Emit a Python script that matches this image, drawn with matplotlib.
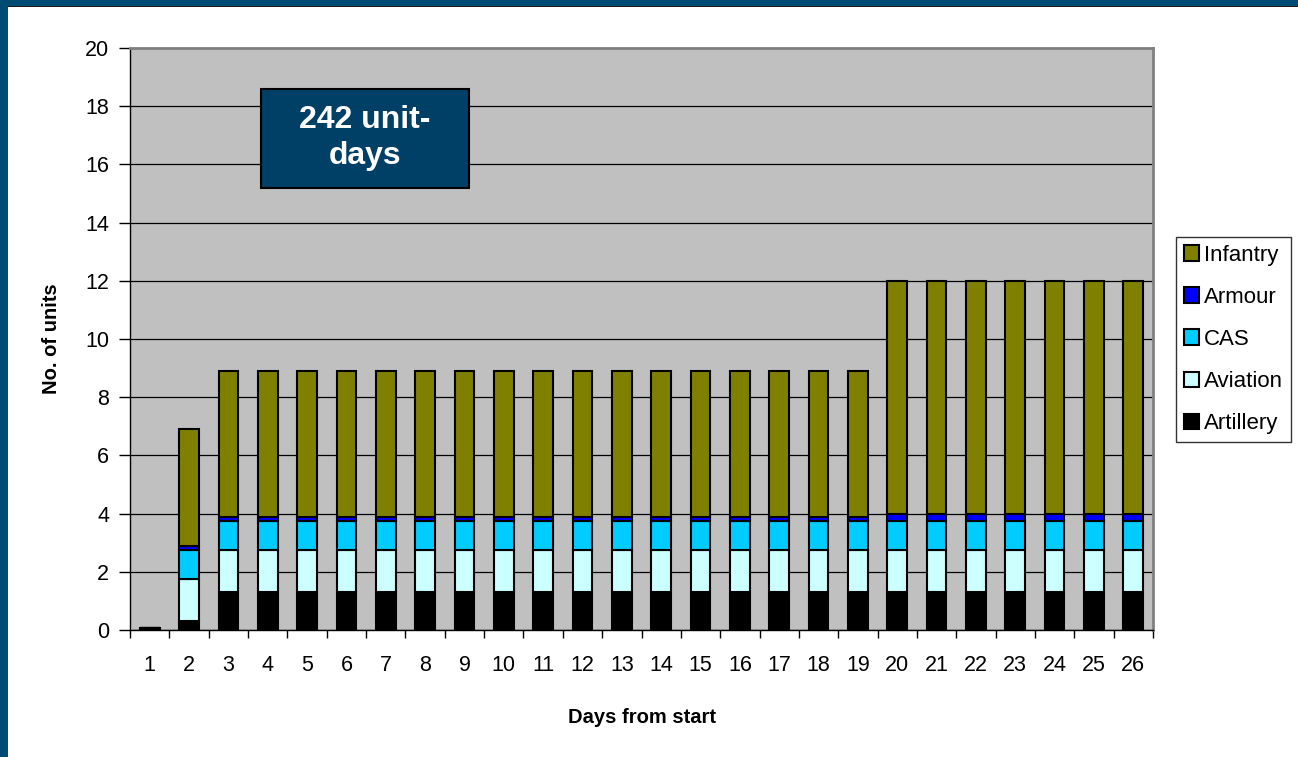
import numpy as np
import matplotlib
matplotlib.use("Agg")
import matplotlib.pyplot as plt
from matplotlib.patches import Rectangle

plt.rcParams['font.family'] = ['Liberation Sans', 'DejaVu Sans']

days = list(range(1, 27))
artillery = [0.08, 0.3] + [1.3] * 24
aviation = [0.0, 1.45] + [1.45] * 24
cas = [0.0, 1.0] + [1.0] * 24
armour = [0.0, 0.15] + [0.15] * 17 + [0.25] * 7
infantry = [0.0, 4.0] + [5.0] * 17 + [8.0] * 7

series = [
    ('Artillery', artillery, '#000000'),
    ('Aviation', aviation, '#CCFFFF'),
    ('CAS', cas, '#00CCFF'),
    ('Armour', armour, '#0000FF'),
    ('Infantry', infantry, '#808000'),
]

fig = plt.figure(figsize=(12.98, 7.57), dpi=100)
fig.patch.set_facecolor('white')

# dark blue frame strips (left and top)
fig.patches.append(Rectangle((0, 0), 8 / 1298, 1, transform=fig.transFigure,
                             facecolor='#004B74', edgecolor='none', zorder=0))
fig.patches.append(Rectangle((0, 1 - 6 / 757), 1, 6 / 757, transform=fig.transFigure,
                             facecolor='#004B74', edgecolor='none', zorder=0))
fig.patches.append(Rectangle((8 / 1298, 1 - 7 / 757), 1, 1 / 757, transform=fig.transFigure,
                             facecolor='#1A1A1A', edgecolor='none', zorder=0))

ax = fig.add_axes([130 / 1298, 127 / 757, 1023 / 1298, 582 / 757])
ax.set_facecolor('#C0C0C0')

bottom = np.zeros(len(days))
handles = {}
for name, vals, color in series:
    vals = np.array(vals)
    b = ax.bar(days, vals, width=0.5, bottom=bottom, color=color,
               edgecolor='black', linewidth=1.5, label=name, zorder=3)
    handles[name] = b
    bottom += vals

ax.set_xlim(0.5, 26.5)
ax.set_ylim(0, 20)
ax.set_yticks(range(0, 21, 2))
ax.yaxis.grid(True, color='black', linewidth=0.9, zorder=1)
ax.set_xticks(days)
ax.set_xticks(np.arange(0.5, 27, 1), minor=True)
ax.tick_params(axis='x', which='major', length=0, pad=18, labelsize=15.5)
ax.tick_params(axis='x', which='minor', length=6, direction='out', width=1)
ax.tick_params(axis='y', length=8, direction='out', width=1, labelsize=15.5, pad=7)

for s in ['top', 'right']:
    ax.spines[s].set_color('#808080')
    ax.spines[s].set_linewidth(2)
for s in ['left', 'bottom']:
    ax.spines[s].set_color('black')
    ax.spines[s].set_linewidth(1)

ax.set_xlabel('Days from start', fontsize=14.5, fontweight='bold', labelpad=23)
ax.set_ylabel('No. of units', fontsize=14.5, fontweight='bold', labelpad=17)

# annotation box
ax.add_patch(Rectangle((3.83, 15.19), 5.285, 3.4, facecolor='#003F66',
                       edgecolor='black', linewidth=1.5, zorder=5))
ax.text(6.47, 16.9, '242 unit-\ndays', ha='center', va='center', fontsize=23,
        fontweight='bold', color='white', linespacing=1.25, zorder=6)

order = ['Infantry', 'Armour', 'CAS', 'Aviation', 'Artillery']
leg = fig.legend([handles[n] for n in order], order, loc='upper left',
                 bbox_to_anchor=(1176 / 1298, 1 - 237 / 757), frameon=True,
                 fancybox=False, edgecolor='black', fontsize=16,
                 handlelength=0.7, handleheight=0.7, handletextpad=0.2,
                 labelspacing=0.95, borderpad=0.35, borderaxespad=0)
leg.get_frame().set_linewidth(1)

fig.savefig('out.png', dpi=100)
